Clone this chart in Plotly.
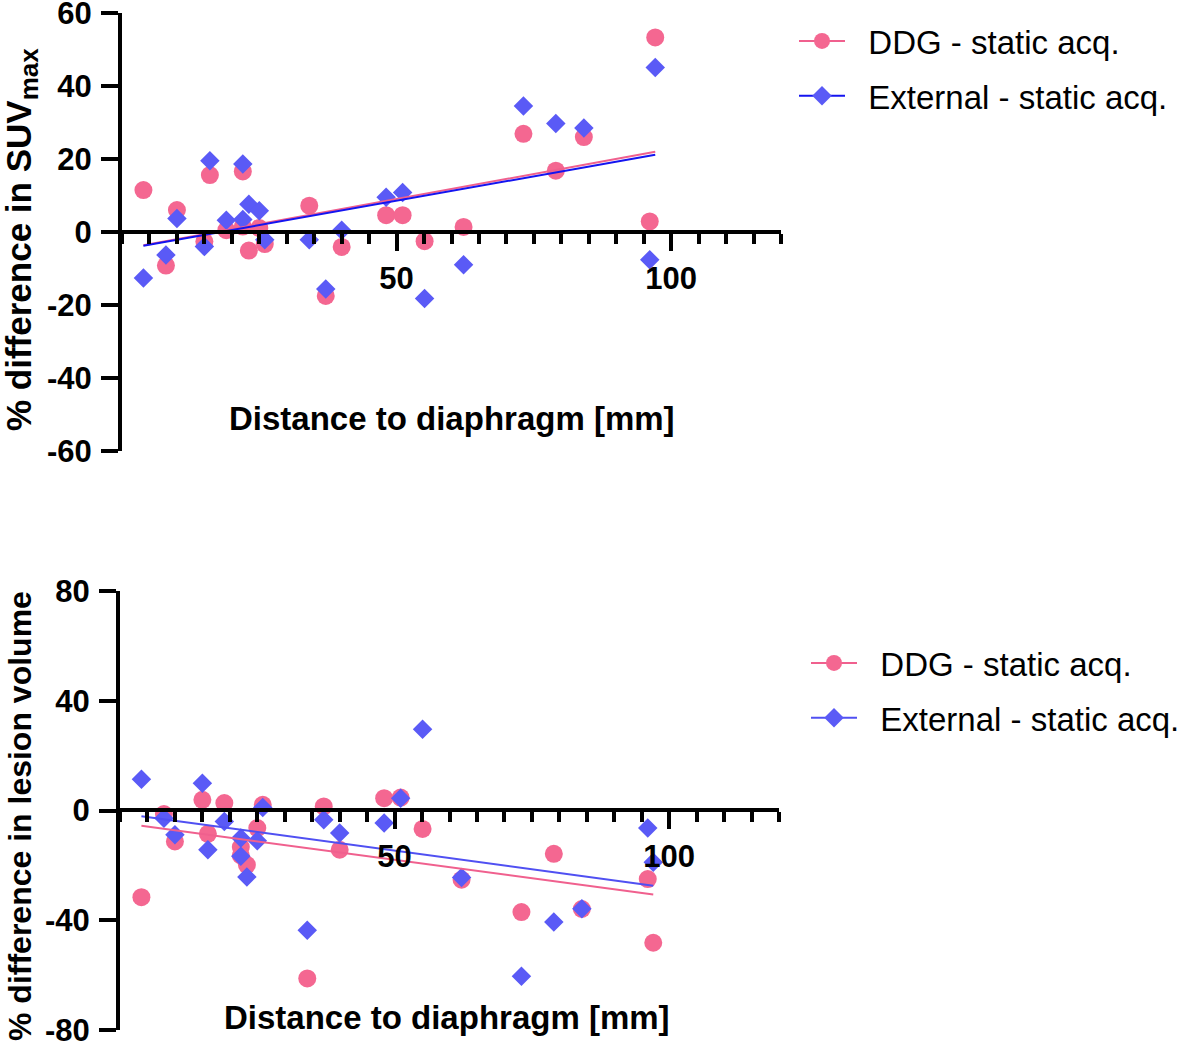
import numpy as np
import plotly.graph_objects as go

# ---------------- data ----------------
distance_mm = [3.9, 8.0, 10.0, 15.0, 16.0, 19.0, 22.0, 22.0, 23.1, 25.0, 26.0,
               34.1, 37.1, 40.0, 48.1, 51.1, 55.1, 62.2, 73.1, 79.0, 84.1, 96.1, 97.1]

suv_ddg = [11.5, -9.2, 6.0, -2.6, 15.6, 0.5, 16.6, 1.5, -5.1, 1.1, -3.3,
           7.2, -17.5, -4.1, 4.6, 4.6, -2.5, 1.4, 26.9, 16.8, 26.0, 2.9, 53.3]
suv_ext = [-12.6, -6.3, 3.7, -4.0, 19.5, 3.2, 18.6, 3.4, 7.6, 5.8, -2.1,
           -2.1, -15.6, 0.5, 9.5, 10.8, -18.2, -9.0, 34.5, 29.7, 28.5, -7.6, 45.1]

vol_ddg = [-31.6, -1.3, -11.3, 3.9, -8.5, 2.7, -13.3, -16.4, -19.8, -6.4, 2.1,
           -61.2, 1.5, -14.3, 4.5, 4.7, -6.7, -25.2, -37.0, -15.8, -35.9, -25.0, -48.2]
vol_ext = [11.4, -2.8, -8.8, 9.9, -14.3, -4.0, -10.0, -16.7, -24.2, -11.0, 1.1,
           -43.6, -3.4, -8.2, -4.6, 4.5, 29.6, -24.4, -60.4, -40.6, -35.8, -6.4, -18.9]

series_names = ["DDG - static acq.", "External - static acq."]
top_yticks = [-60, -40, -20, 0, 20, 40, 60]
bottom_yticks = [-80, -40, 0, 40, 80]
x_major_ticks = [50, 100]
x_title = "Distance to diaphragm [mm]"
top_ytitle = "% difference in SUV<sub><span style='font-size:26px'>max</span></sub>"
bottom_ytitle = "% difference in lesion volume"

# ---------------- styling ----------------
W, H = 1181, 1049
FONT = "Liberation Sans, Arial, sans-serif"
PINK = "#F46791"
PINK_LINE = "#F0608E"
BLUE = "#5A5AF6"
BLUE_LINE_TOP = "#1414F0"
BLUE_LINE_BOT = "#5050F2"
TICK_SIZE = 31
LEGEND_SIZE = 33
GAP = "\u00a0\u00a0"  # visual gap between legend symbol and label


def fx(p):
    return p / W


def fy(p):
    return 1 - p / H


def fit_line(x, y):
    x = np.asarray(x, float)
    y = np.asarray(y, float)
    k, b = np.polyfit(x, y, 1)
    xs = np.array([x.min(), x.max()])
    return xs, k * xs + b


fig = go.Figure()

panels = [
    dict(xa="x", ya="y", ddg=suv_ddg, ext=suv_ext, bl=BLUE_LINE_TOP, leg="legend"),
    dict(xa="x2", ya="y2", ddg=vol_ddg, ext=vol_ext, bl=BLUE_LINE_BOT, leg="legend2"),
]

for p in panels:
    fig.add_trace(go.Scatter(x=distance_mm, y=p["ddg"], mode="markers",
                             marker=dict(symbol="circle", size=18, color=PINK),
                             xaxis=p["xa"], yaxis=p["ya"], showlegend=False, hoverinfo="skip"))
    fig.add_trace(go.Scatter(x=distance_mm, y=p["ext"], mode="markers",
                             marker=dict(symbol="diamond", size=15, color=BLUE),
                             xaxis=p["xa"], yaxis=p["ya"], showlegend=False, hoverinfo="skip"))
    lx, ly = fit_line(distance_mm, p["ddg"])
    fig.add_trace(go.Scatter(x=lx, y=ly, mode="lines", line=dict(color=PINK_LINE, width=2),
                             xaxis=p["xa"], yaxis=p["ya"], showlegend=False, hoverinfo="skip"))
    lx, ly = fit_line(distance_mm, p["ext"])
    fig.add_trace(go.Scatter(x=lx, y=ly, mode="lines", line=dict(color=p["bl"], width=2),
                             xaxis=p["xa"], yaxis=p["ya"], showlegend=False, hoverinfo="skip"))
    # legend entries
    fig.add_trace(go.Scatter(x=[None], y=[None], mode="lines+markers", name=GAP + series_names[0],
                             marker=dict(symbol="circle", size=18, color=PINK),
                             line=dict(color=PINK_LINE, width=2),
                             xaxis=p["xa"], yaxis=p["ya"], legend=p["leg"], legendgroup=p["leg"] + "a"))
    fig.add_trace(go.Scatter(x=[None], y=[None], mode="lines+markers", name=GAP + series_names[1],
                             marker=dict(symbol="diamond", size=15, color=BLUE),
                             line=dict(color=p["bl"], width=2),
                             xaxis=p["xa"], yaxis=p["ya"], legend=p["leg"], legendgroup=p["leg"] + "b"))

bold_tick = dict(family=FONT, size=TICK_SIZE, color="black", weight="bold")


def xaxis_cfg(x0, x1, ypos):
    return dict(domain=[fx(x0), fx(x1)], range=[0, 120], anchor="free", position=fy(ypos),
                showline=True, linewidth=4, linecolor="black", showgrid=False, zeroline=False,
                ticks="outside", ticklen=17, tickwidth=4, tickcolor="black",
                tickmode="array", tickvals=x_major_ticks, ticktext=[str(v) for v in x_major_ticks],
                tickfont=bold_tick, ticklabelstandoff=1, ticklabeloverflow="allow",
                minor=dict(tickmode="linear", tick0=0, dtick=5, ticks="outside", ticklen=10,
                           tickwidth=4, tickcolor="black", showgrid=False),
                automargin=False, fixedrange=True)


def yaxis_cfg(y_top, y_bot, rng, ticks, anchor):
    return dict(domain=[fy(y_bot), fy(y_top)], range=rng, anchor=anchor,
                showline=True, linewidth=4, linecolor="black", showgrid=False, zeroline=False,
                ticks="outside", ticklen=17, tickwidth=4, tickcolor="black",
                tickmode="array", tickvals=ticks, ticktext=[str(v) for v in ticks],
                tickfont=bold_tick, ticklabelstandoff=3, ticklabeloverflow="allow",
                automargin=False, fixedrange=True)


legend_common = dict(xanchor="left", yanchor="top", bgcolor="rgba(0,0,0,0)",
                     font=dict(family=FONT, size=LEGEND_SIZE, color="black"),
                     itemwidth=46, tracegroupgap=9, itemsizing="trace")

fig.update_layout(
    width=W, height=H,
    margin=dict(l=0, r=0, t=0, b=0, autoexpand=False),
    paper_bgcolor="white", plot_bgcolor="white",
    xaxis=xaxis_cfg(122, 781, 232),
    yaxis=yaxis_cfg(13, 451, [-60, 60], top_yticks, "x"),
    xaxis2=xaxis_cfg(120, 779, 810),
    yaxis2=yaxis_cfg(591, 1030, [-80, 80], bottom_yticks, "x2"),
    legend=dict(x=fx(794), y=fy(13), **legend_common),
    legend2=dict(x=fx(806), y=fy(635), **legend_common),
    annotations=[
        dict(text=x_title, x=fx(452), y=fy(418), xref="paper", yref="paper", showarrow=False,
             font=dict(family=FONT, size=33, color="black", weight="bold"),
             xanchor="center", yanchor="middle"),
        dict(text=x_title, x=fx(447), y=fy(1017), xref="paper", yref="paper", showarrow=False,
             font=dict(family=FONT, size=33, color="black", weight="bold"),
             xanchor="center", yanchor="middle"),
        dict(text=top_ytitle, x=fx(22), y=fy(240), xref="paper", yref="paper", showarrow=False,
             textangle=-90, font=dict(family=FONT, size=35, color="black", weight="bold"),
             xanchor="center", yanchor="middle"),
        dict(text=bottom_ytitle, x=fx(20), y=fy(816), xref="paper", yref="paper", showarrow=False,
             textangle=-90, font=dict(family=FONT, size=32, color="black", weight="bold"),
             xanchor="center", yanchor="middle"),
    ],
)

fig.write_html("out.html", config={"displayModeBar": False},
               post_script="document.body.style.margin='0px';")
